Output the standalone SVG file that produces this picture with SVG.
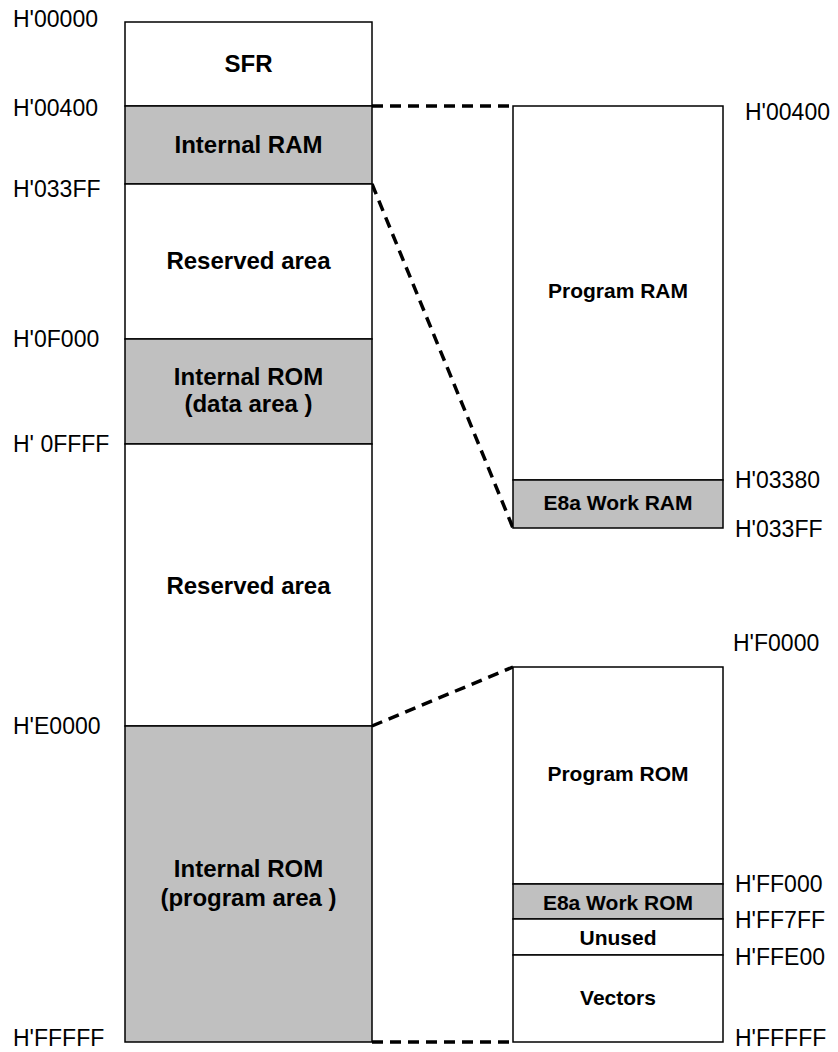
<svg xmlns="http://www.w3.org/2000/svg" width="838" height="1052" viewBox="0 0 838 1052">
<style>
.box{stroke:#000;stroke-width:1.5;fill:#fff}
.gray{fill:#c0c0c0}
.hex{font-family:"Liberation Sans",Arial,sans-serif;font-size:23px;fill:#000}
.lb{font-family:"Liberation Sans",Arial,sans-serif;font-weight:bold;font-size:24px;fill:#000;text-anchor:middle}
.rb{font-family:"Liberation Sans",Arial,sans-serif;font-weight:bold;font-size:21px;fill:#000;text-anchor:middle}
.dash{stroke:#000;stroke-width:3.5;stroke-dasharray:11 7;fill:none}
</style>
<rect width="838" height="1052" fill="#fff"/>
<g id="connectors">
<line class="dash" x1="372" y1="106" x2="513" y2="106"/>
<line class="dash" x1="372" y1="184" x2="513" y2="528"/>
<line class="dash" x1="372" y1="726" x2="513" y2="667"/>
<line class="dash" x1="372" y1="1042" x2="513" y2="1042"/>
</g>
<g id="sfr"><rect class="box" x="125" y="22" width="247" height="84"/><text class="lb" x="248.5" y="72">SFR</text></g>
<g id="internal-ram"><rect class="box gray" x="125" y="106" width="247" height="78"/><text class="lb" x="248.5" y="153">Internal RAM</text></g>
<g id="reserved1"><rect class="box" x="125" y="184" width="247" height="155"/><text class="lb" x="248.5" y="269">Reserved area</text></g>
<g id="rom-data"><rect class="box gray" x="125" y="339" width="247" height="105"/><text class="lb" x="248.5" y="385">Internal ROM</text><text class="lb" x="248.5" y="412">(data area )</text></g>
<g id="reserved2"><rect class="box" x="125" y="444" width="247" height="282"/><text class="lb" x="248.5" y="594">Reserved area</text></g>
<g id="rom-program"><rect class="box gray" x="125" y="726" width="247" height="316"/><text class="lb" x="248.5" y="877">Internal ROM</text><text class="lb" x="248.5" y="906">(program area )</text></g>
<g id="program-ram"><rect class="box" x="513" y="106" width="210" height="374"/><text class="rb" x="618" y="298">Program RAM</text></g>
<g id="e8a-work-ram"><rect class="box gray" x="513" y="480" width="210" height="48"/><text class="rb" x="618" y="510">E8a Work RAM</text></g>
<g id="program-rom"><rect class="box" x="513" y="667" width="210" height="217"/><text class="rb" x="618" y="781">Program ROM</text></g>
<g id="e8a-work-rom"><rect class="box gray" x="513" y="884" width="210" height="35"/><text class="rb" x="618" y="910">E8a Work ROM</text></g>
<g id="unused"><rect class="box" x="513" y="919" width="210" height="36"/><text class="rb" x="618" y="945">Unused</text></g>
<g id="vectors"><rect class="box" x="513" y="955" width="210" height="87"/><text class="rb" x="618" y="1005">Vectors</text></g>
<g id="labels">
<text class="hex" x="13" y="27">H'00000</text>
<text class="hex" x="13" y="116">H'00400</text>
<text class="hex" x="13" y="197">H'033FF</text>
<text class="hex" x="13" y="347">H'0F000</text>
<text class="hex" x="13" y="452">H' 0FFFF</text>
<text class="hex" x="13" y="734">H'E0000</text>
<text class="hex" x="13" y="1046">H'FFFFF</text>
<text class="hex" x="745" y="120">H'00400</text>
<text class="hex" x="735" y="488">H'03380</text>
<text class="hex" x="735" y="537">H'033FF</text>
<text class="hex" x="733" y="651">H'F0000</text>
<text class="hex" x="735" y="892">H'FF000</text>
<text class="hex" x="735" y="928">H'FF7FF</text>
<text class="hex" x="735" y="965">H'FFE00</text>
<text class="hex" x="735" y="1046">H'FFFFF</text>
</g>
</svg>
